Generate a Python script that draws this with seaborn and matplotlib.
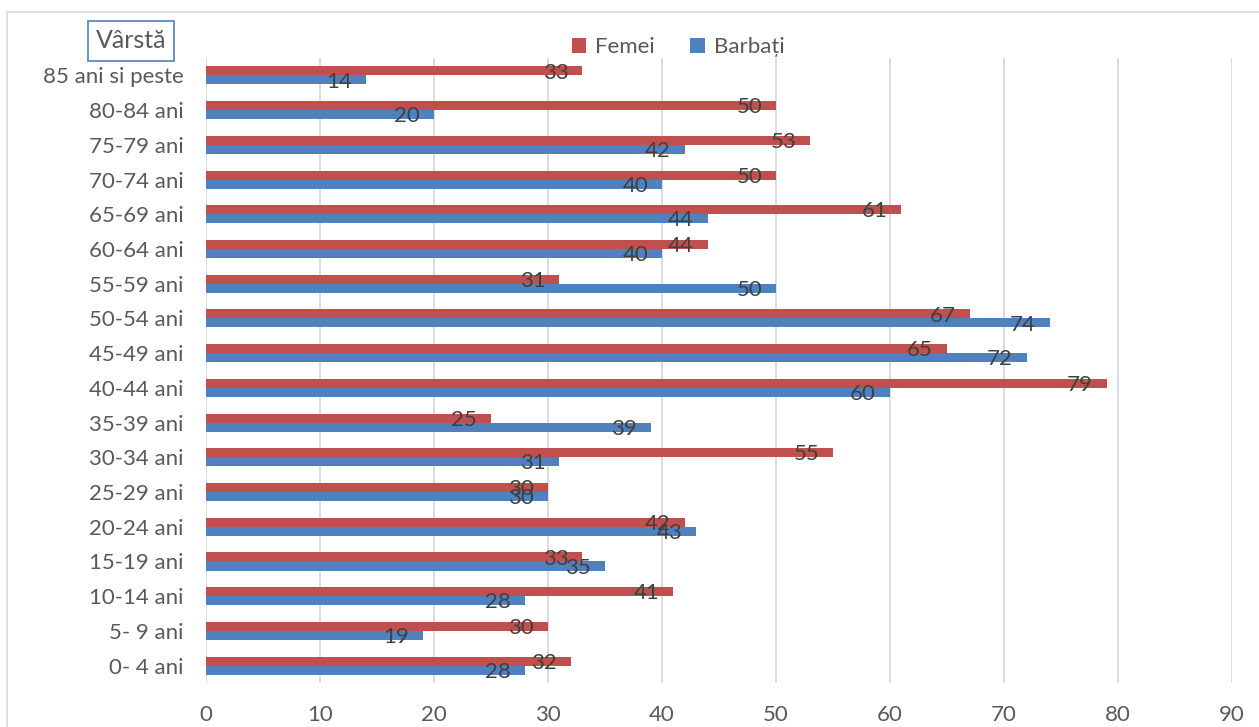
import pandas as pd
import matplotlib.pyplot as plt
import seaborn as sns
from matplotlib.patches import Rectangle

# Date: grupe de varsta (de sus in jos) si valori pe sexe
GRUPE = ["85 ani si peste", "80-84 ani", "75-79 ani", "70-74 ani", "65-69 ani",
         "60-64 ani", "55-59 ani", "50-54 ani", "45-49 ani", "40-44 ani",
         "35-39 ani", "30-34 ani", "25-29 ani", "20-24 ani", "15-19 ani",
         "10-14 ani", "5- 9 ani", "0- 4 ani"]
FEMEI = [33, 50, 53, 50, 61, 44, 31, 67, 65, 79, 25, 55, 30, 42, 33, 41, 30, 32]
BARBATI = [14, 20, 42, 40, 44, 40, 50, 74, 72, 60, 39, 31, 30, 43, 35, 28, 19, 28]
SERII = ["Femei", "Barbați"]
X_TICKS = list(range(0, 100, 10))

RED = "#C0504D"
BLUE = "#4F81BD"
TEXT_COLOR = "#595959"
LABEL_COLOR = "#404040"
GRID_COLOR = "#D9D9D9"
FS = 16

sns.set_style("white")
plt.rcParams["font.family"] = ["Lato", "DejaVu Sans"]

df = pd.DataFrame({
    "grupa": GRUPE * 2,
    "valoare": FEMEI + BARBATI,
    "sex": [SERII[0]] * len(GRUPE) + [SERII[1]] * len(GRUPE),
})

W, H = 1259, 727
fig = plt.figure(figsize=(W / 100, H / 100), dpi=100)
ax = fig.add_axes([206 / W, 1 - 683 / H, (1232 - 206) / W, (683 - 58) / H])

sns.barplot(data=df, y="grupa", x="valoare", hue="sex", order=GRUPE,
            hue_order=SERII, palette=[RED, BLUE], width=0.52, orient="h",
            linewidth=0, saturation=1, ax=ax)

# etichete de date, in interiorul capatului barei
for container in ax.containers:
    for bar in container:
        w = bar.get_width()
        ax.annotate(f"{w:.0f}", (w, bar.get_y() + bar.get_height() / 2),
                    xytext=(-10, -1.2), textcoords="offset points",
                    ha="right", va="center", fontsize=FS, color=LABEL_COLOR)

ax.set_xlim(0, 90)
ax.set_ylim(len(GRUPE) - 0.5, -0.5)
ax.set_xticks(X_TICKS)
ax.set_xlabel("")
ax.set_ylabel("")
ax.xaxis.grid(True, color=GRID_COLOR, linewidth=1.3)
ax.set_axisbelow(True)
sns.despine(ax=ax, left=True, bottom=True)
ax.tick_params(axis="x", length=0, pad=16, labelsize=FS, colors=TEXT_COLOR)
ax.tick_params(axis="y", length=0, pad=16, labelsize=FS, colors=TEXT_COLOR)

ax.legend(loc="center", bbox_to_anchor=(678 / W, 1 - 47 / H),
          bbox_transform=fig.transFigure, ncol=2, frameon=False,
          handlelength=0.65, handleheight=0.65, handletextpad=0.4,
          columnspacing=1.6, fontsize=FS, labelcolor=TEXT_COLOR)

# titlul axei verticale in caseta
fig.add_artist(Rectangle((88 / W, 1 - 61 / H), 86 / W, 40 / H,
                         transform=fig.transFigure, fill=False,
                         edgecolor=BLUE, linewidth=1.2))
fig.text(131 / W, 1 - 41 / H, "Vârstă", ha="center", va="center",
         fontsize=18, color=TEXT_COLOR)

# chenarul graficului
fig.add_artist(Rectangle((7 / W, -0.1), 1.2, 1.1 - 12.5 / H,
                         transform=fig.transFigure, fill=False,
                         edgecolor=GRID_COLOR, linewidth=1.2))

fig.savefig("out.png", dpi=100)
